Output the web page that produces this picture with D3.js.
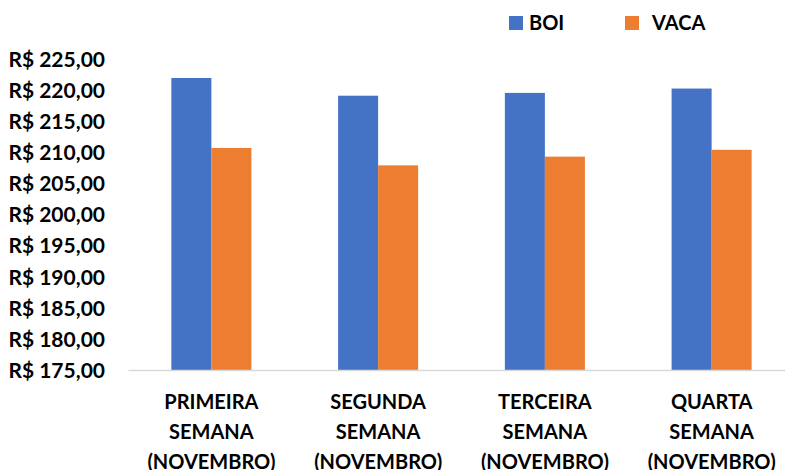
<!DOCTYPE html>
<html lang="pt">

<head>
  <meta charset="UTF-8">
  <title>Boi x Vaca</title>
  <style>
    body { margin: 0; background: #fff; }
    text { font-family: Lato, "Open Sans", sans-serif; font-weight: bold; fill: #000; }
  </style>
</head>

<body>
  <svg width="785" height="470"></svg>
  <script src="https://d3js.org/d3.v7.min.js"></script>
  <script>
    // data
    var categories = ["PRIMEIRA SEMANA (NOVEMBRO)", "SEGUNDA SEMANA (NOVEMBRO)",
      "TERCEIRA SEMANA (NOVEMBRO)", "QUARTA SEMANA (NOVEMBRO)"];
    var series = ["BOI", "VACA"];
    var boi = [221.95, 219.10, 219.55, 220.25];
    var vaca = [210.70, 207.90, 209.30, 210.40];
    var yTicks = [175, 180, 185, 190, 195, 200, 205, 210, 215, 220, 225];
    var colors = ["#4472C4", "#ED7D31"];

    var values = [boi, vaca];

    var svg = d3.select("svg");

    // plot area (note: "top" is taken by window.top)
    var plotLeft = 128, plotRight = 795, plotTop = 59, plotBottom = 370;

    // scales
    var x0 = d3.scaleBand().domain(categories).range([plotLeft, plotRight])
      .paddingInner(0.52).paddingOuter(0.26);
    var x1 = d3.scaleBand().domain(series).range([0, x0.bandwidth()]);
    var y = d3.scaleLinear().domain([175, 225]).range([plotBottom, plotTop]);
    var color = d3.scaleOrdinal().domain(series).range(colors);

    var money = function (d) { return "R$ " + d3.format(".2f")(d).replace(".", ","); };

    // bars
    var groups = svg.append("g")
      .selectAll("g")
      .data(categories)
      .enter()
      .append("g")
      .attr("transform", function (d) { return "translate(" + x0(d) + ",0)"; });

    groups.selectAll("rect")
      .data(function (d, i) {
        return series.map(function (s, j) { return { key: s, value: values[j][i] }; });
      })
      .enter()
      .append("rect")
      .attr("x", function (d) { return x1(d.key); })
      .attr("y", function (d) { return y(d.value); })
      .attr("width", x1.bandwidth())
      .attr("height", function (d) { return y(175) - y(d.value); })
      .style("fill", function (d) { return color(d.key); });

    // y axis (labels only)
    var yAxis = svg.append("g")
      .attr("transform", "translate(" + plotLeft + ",0)")
      .call(d3.axisLeft(y).tickValues(yTicks).tickSize(0).tickPadding(23).tickFormat(money));
    yAxis.select(".domain").remove();
    yAxis.selectAll("text")
      .attr("dy", "0.35em")
      .style("font-size", "21px")
      .style("font-family", "Lato, sans-serif");

    // x axis
    var xAxis = svg.append("g")
      .attr("transform", "translate(0," + plotBottom + ")")
      .call(d3.axisBottom(x0).tickSize(0));
    xAxis.select(".domain")
      .attr("stroke", "#D9D9D9")
      .attr("stroke-width", 1.5);
    xAxis.selectAll("text")
      .style("font-size", "20px")
      .style("font-family", "Lato, sans-serif")
      .attr("y", 0)
      .attr("dy", null)
      .each(function (d) {
        var t = d3.select(this);
        var words = d.split(" ");
        t.text(null);
        words.forEach(function (w, i) {
          t.append("tspan")
            .attr("x", 0)
            .attr("y", 39 + i * 30)
            .text(w);
        });
      });

    // legend
    var legendX = [509, 625];
    var legend = svg.append("g")
      .selectAll("g")
      .data(series)
      .enter()
      .append("g")
      .attr("transform", function (d, i) { return "translate(" + legendX[i] + ",16)"; });

    legend.append("rect")
      .attr("width", 14)
      .attr("height", 14)
      .style("fill", function (d) { return color(d); });

    legend.append("text")
      .attr("x", function (d, i) { return i == 0 ? 20 : 27; })
      .attr("y", 14)
      .style("font-size", "20px")
      .text(function (d) { return d; });
  </script>
</body>

</html>
